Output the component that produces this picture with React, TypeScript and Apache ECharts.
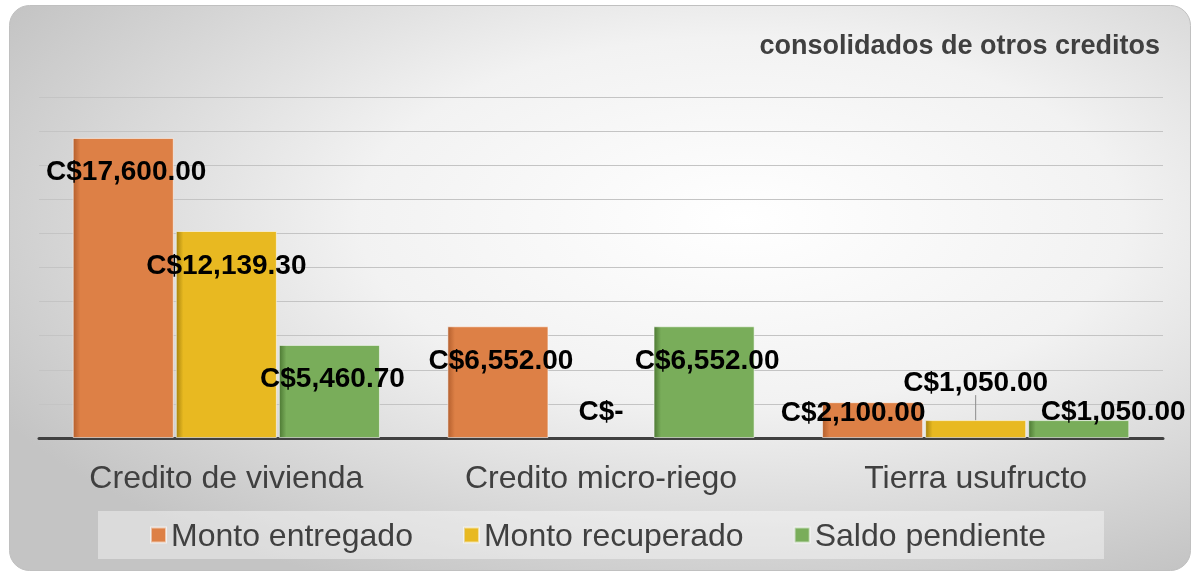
import React, { useEffect, useRef } from "react";
import * as echarts from "echarts";

const categories = ["Credito de vivienda", "Credito micro-riego", "Tierra usufructo"];
const seriesNames = ["Monto entregado", "Monto recuperado", "Saldo pendiente"];
const montoEntregado = [17600, 6552, 2100];
const montoRecuperado = [12139.3, 0, 1050];
const saldoPendiente = [5460.7, 6552, 1050];
const yMax = 20000;
const yInterval = 2000;

const fmt = (v: number) => {
  if (!v) return "C$-";
  const [i, d] = v.toFixed(2).split(".");
  return "C$" + i.replace(/\B(?=(\d{3})+(?!\d))/g, ",") + "." + d;
};

const grad = (edge: string, main: string) =>
  new echarts.graphic.LinearGradient(0, 0, 1, 0, [
    { offset: 0, color: edge },
    { offset: 0.07, color: main },
    { offset: 1, color: main },
  ]);

// per-item label placement (style only)
const labelPos: Record<string, any> = {
  "1-1": { position: ["50%", -28] },
  "0-2": { position: [28, 9] },
  "2-2": { position: [82, -10] },
};

export default function App() {
  const ref = useRef<HTMLDivElement>(null);
  useEffect(() => {
    if (!ref.current) return;
    const chart = echarts.init(ref.current, undefined, { renderer: "svg" });
    const allData = [montoEntregado, montoRecuperado, saldoPendiente];
    const colors = [
      grad("#B5602E", "#DD8046"),
      grad("#A8840E", "#E8B921"),
      grad("#4E7A34", "#79AD5A"),
    ];
    const series = allData.map((arr, s) => ({
      name: seriesNames[s],
      type: "bar",
      barGap: "2%",
      barCategoryGap: "18%",
      itemStyle: { color: colors[s], borderColor: "rgba(255,255,255,0.55)", borderWidth: 1 },
      label: {
        show: true,
        position: ["50%", 33],
        align: "center",
        verticalAlign: "middle",
        offset: [3, 0],
        formatter: (p: any) => fmt(p.value),
        fontFamily: "Liberation Sans, Arial, sans-serif",
        fontWeight: "bold",
        fontSize: 28,
        color: "#000",
      },
      labelLayout:
        s === 1
          ? (p: any) => (p.dataIndex === 2 ? { dy: -72 } : {})
          : undefined,
      data: arr.map((v, i) => {
        const item: any = { value: v };
        const lp = labelPos[`${s}-${i}`];
        if (lp) item.label = lp;
        if (!v) item.itemStyle = { borderWidth: 0 };
        if (s === 1 && i === 2)
          item.labelLine = { show: true, lineStyle: { color: "#8c8c8c", width: 1 } };
        return item;
      }),
    }));

    chart.setOption({
      animation: false,
      graphic: [
        {
          type: "rect",
          left: 9,
          top: 5,
          z: -100,
          shape: { width: 1181, height: 565, r: 20 },
          style: {
            fill: new echarts.graphic.RadialGradient(0.62, 0.38, 0.72, [
              { offset: 0, color: "#ffffff" },
              { offset: 0.45, color: "#f2f2f2" },
              { offset: 1, color: "#c4c4c4" },
            ]),
            stroke: "#c0c0c0",
            lineWidth: 1,
          },
        },
      ],
      title: {
        text: "consolidados de otros creditos",
        right: 35,
        top: 31,
        padding: 0,
        textStyle: {
          fontFamily: "Liberation Sans, Arial, sans-serif",
          fontWeight: "bold",
          fontSize: 27,
          color: "#404040",
        },
      },
      legend: {
        data: seriesNames,
        left: 98,
        top: 511,
        padding: [8, 58, 8, 52],
        backgroundColor: "rgba(255,255,255,0.4)",
        itemWidth: 15,
        itemHeight: 15,
        itemGap: 50,
        icon: "rect",
        textStyle: {
          fontFamily: "Liberation Sans, Arial, sans-serif",
          fontSize: 32,
          color: "#404040",
        },
      },
      grid: { left: 39, right: 32, top: 97, bottom: 137 },
      xAxis: {
        type: "category",
        data: categories,
        axisTick: { show: false },
        axisLine: { lineStyle: { color: "#404040", width: 3 } },
        axisLabel: {
          margin: 23,
          fontFamily: "Liberation Sans, Arial, sans-serif",
          fontSize: 32,
          color: "#404040",
        },
      },
      yAxis: {
        type: "value",
        min: 0,
        max: yMax,
        interval: yInterval,
        axisLabel: { show: false },
        axisLine: { show: false },
        axisTick: { show: false },
        splitLine: { lineStyle: { color: "#c4c4c4", width: 1 } },
      },
      series,
    });
    return () => chart.dispose();
  }, []);
  return (
    <div
      ref={ref}
      style={{ position: "fixed", left: 0, top: 0, width: 1195, height: 575 }}
    />
  );
}
